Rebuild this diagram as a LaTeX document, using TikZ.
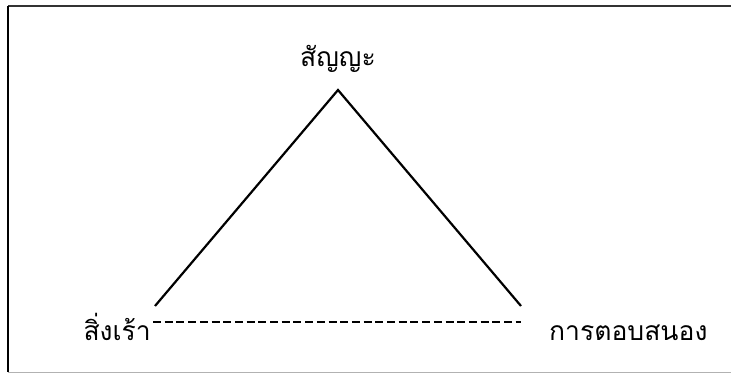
\documentclass[tikz,border=0pt]{standalone}
\usepackage{fontspec}
\newfontfamily\thaifont[Script=Thai]{Loma}
\begin{document}
\begin{tikzpicture}[x=1pt,y=-1pt,
  lbl/.style={font=\thaifont\fontsize{26.5}{30}\selectfont, inner sep=0pt},
  solidline/.style={line width=2.2pt},
  dashline/.style={line width=2.4pt, dash pattern=on 8pt off 3.7pt}]
\useasboundingbox (0,0) rectangle (731,374);
\draw[line width=1.6pt, black!80] (8,6) -- (731,6);
\draw[line width=1.6pt, black] (8,6) -- (8,372);
\draw[line width=1pt, black!30] (8,372) -- (731,372);
\coordinate (apex) at (338,90);
\coordinate (lb) at (155,306);
\coordinate (rb) at (521,306);
\coordinate (ds) at (153,322);
\coordinate (de) at (521,322);
\node[lbl, anchor=base] (sign) at (338,67) {สัญญะ};
\node[lbl, anchor=base east] (stim) at (151,340) {สิ่งเร้า};
\node[lbl, anchor=base west] (resp) at (549,340) {การตอบสนอง};
\draw[solidline] (lb) -- (apex) -- (rb);
\draw[dashline] (ds) -- (de);
\end{tikzpicture}
\end{document}
